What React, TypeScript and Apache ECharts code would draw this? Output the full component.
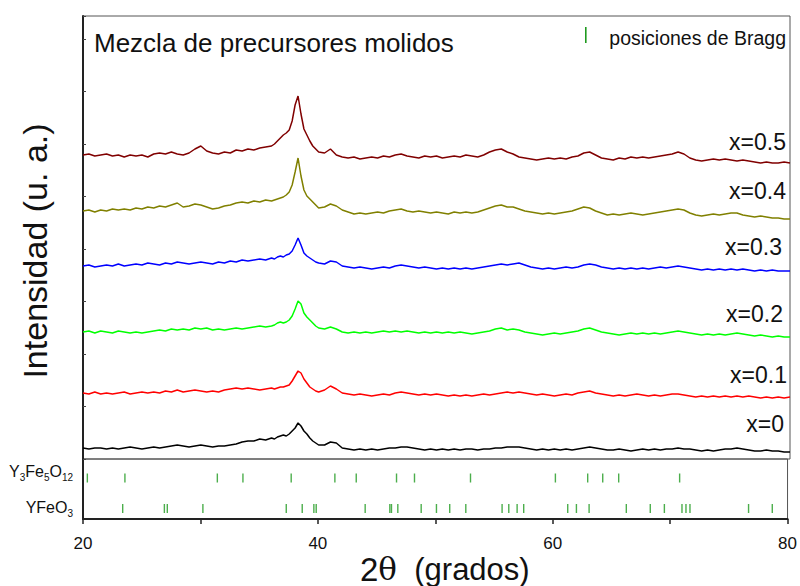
import React, { useEffect, useRef } from "react";
import * as echarts from "echarts";

// 2θ sampling positions (degrees)
const twoTheta = [
  20, 20.5, 21, 21.5, 22, 22.5, 23, 23.5, 24, 24.5, 25, 25.5, 26, 26.5, 27, 27.5,
  28, 28.5, 29, 29.5, 30, 30.5, 31, 31.5, 32, 32.5, 33, 33.5, 34, 34.5, 35, 35.5,
  36, 36.25, 36.5, 36.75, 37, 37.25, 37.5, 37.75, 38, 38.25, 38.5, 38.75, 39, 39.25, 39.5, 39.75, 40,
  40.5, 41, 41.5, 42, 42.5, 43, 43.5, 44, 44.5, 45,
  45.5, 46, 46.5, 47, 47.5, 48, 48.5, 49, 49.5, 50,
  50.5, 51, 51.5, 52, 52.5, 53, 53.5, 54, 54.5, 55,
  55.5, 56, 56.5, 57, 57.5, 58, 58.5, 59, 59.5, 60,
  60.5, 61, 61.5, 62, 62.5, 63, 63.5, 64, 64.5, 65,
  65.5, 66, 66.5, 67, 67.5, 68, 68.5, 69, 69.5, 70,
  70.5, 71, 71.5, 72, 72.5, 73, 73.5, 74, 74.5, 75,
  75.5, 76, 76.5, 77, 77.5, 78, 78.5, 79, 79.5, 80,
];

// Intensities (a.u., already stacked with vertical offsets as in the figure)
const int_x05 = [
  304, 305, 303, 304, 305, 303, 304, 302, 304, 303, 304, 302, 305, 306, 305, 307,
  305, 304, 306, 310, 313, 308, 306, 305, 307, 306, 309, 308, 310, 309, 311, 312,
  313, 315, 318, 321, 324, 326, 329, 338, 354, 363, 345, 330, 324, 318, 313, 310, 307,
  306, 310, 304, 302, 301, 302, 300, 301, 302, 301,
  303, 302, 304, 305, 303, 302, 301, 303, 302, 303,
  301, 302, 303, 302, 304, 303, 302, 304, 307, 309,
  310, 307, 305, 302, 301, 300, 299, 300, 301, 300,
  301, 300, 302, 303, 306, 307, 304, 301, 300, 299,
  301, 300, 302, 301, 302, 301, 302, 303, 304, 305,
  307, 305, 301, 299, 298, 299, 300, 299, 300, 299,
  298, 299, 298, 297, 296, 297, 296, 296, 297, 296,
];
const int_x04 = [
  248, 249, 247, 249, 248, 250, 249, 250, 249, 251, 250, 252, 251, 253, 252, 254,
  256, 252, 253, 255, 254, 252, 250, 251, 253, 254, 256, 257, 256, 258, 257, 259,
  258, 259, 260, 261, 262, 264, 267, 274, 287, 301, 283, 269, 263, 260, 257, 254, 251,
  252, 255, 253, 249, 247, 245, 246, 245, 246, 247,
  246, 248, 249, 250, 248, 247, 248, 247, 246, 247,
  246, 245, 247, 246, 247, 246, 247, 249, 251, 253,
  254, 252, 252, 250, 248, 247, 246, 245, 246, 245,
  246, 247, 248, 250, 252, 251, 248, 246, 244, 245,
  244, 245, 246, 245, 244, 245, 246, 247, 248, 249,
  250, 249, 246, 244, 243, 244, 245, 244, 245, 246,
  246, 244, 243, 242, 243, 242, 241, 241, 240, 240,
];
const int_x03 = [
  193, 194, 192, 193, 194, 193, 195, 193, 194, 195, 194, 196, 195, 194, 196, 195,
  197, 196, 195, 196, 197, 196, 195, 197, 196, 198, 197, 199, 198, 199, 200, 199,
  201, 200, 202, 203, 202, 204, 205, 208, 214, 221, 214, 206, 203, 201, 199, 197, 196,
  195, 198, 197, 193, 192, 191, 192, 191, 190, 191,
  192, 191, 193, 194, 193, 192, 191, 192, 191, 190,
  191, 190, 191, 190, 191, 190, 191, 192, 193, 194,
  195, 194, 195, 196, 194, 192, 191, 190, 191, 190,
  191, 192, 191, 192, 194, 195, 194, 192, 191, 190,
  191, 190, 191, 190, 191, 190, 191, 192, 191, 192,
  193, 192, 191, 190, 189, 190, 189, 190, 189, 190,
  189, 190, 189, 188, 189, 188, 189, 188, 188, 188,
];
const int_x02 = [
  127, 128, 126, 128, 127, 126, 128, 127, 126, 127, 126, 127, 128, 129, 128, 130,
  129, 130, 129, 131, 130, 131, 129, 130, 129, 130, 131, 130, 131, 132, 133, 132,
  133, 134, 136, 137, 136, 137, 139, 143, 150, 158, 155, 146, 142, 139, 136, 133, 131,
  130, 132, 130, 127, 126, 127, 126, 127, 126, 127,
  128, 127, 128, 127, 128, 127, 126, 127, 126, 127,
  126, 127, 126, 127, 126, 125, 126, 127, 128, 130,
  131, 129, 130, 129, 127, 126, 125, 124, 125, 126,
  125, 126, 127, 128, 130, 131, 129, 127, 126, 125,
  124, 125, 126, 125, 126, 125, 126, 125, 126, 127,
  128, 127, 126, 125, 124, 125, 124, 125, 124, 125,
  126, 125, 124, 123, 124, 123, 122, 123, 122, 122,
];
const int_x01 = [
  66, 65, 67, 65, 66, 65, 66, 67, 65, 66, 67, 66, 67, 66, 68, 67,
  69, 67, 68, 69, 68, 67, 68, 67, 69, 70, 71, 70, 71, 70, 69, 70,
  71, 70, 71, 72, 72, 73, 74, 78, 83, 88, 86, 80, 76, 72, 70, 68, 67,
  69, 73, 70, 66, 65, 64, 65, 64, 63, 64,
  65, 64, 66, 67, 66, 65, 64, 65, 64, 65,
  64, 63, 64, 63, 64, 63, 64, 65, 64, 65,
  66, 67, 66, 67, 66, 65, 64, 65, 64, 63,
  64, 65, 64, 66, 67, 68, 66, 65, 64, 63,
  64, 63, 64, 65, 64, 63, 64, 63, 64, 65,
  65, 64, 63, 62, 63, 62, 63, 62, 63, 62,
  63, 62, 63, 62, 61, 62, 61, 62, 61, 62,
];
const int_x00 = [
  11, 10, 11, 11, 10, 11, 10, 11, 12, 11, 10, 11, 12, 11, 12, 13,
  14, 13, 12, 13, 14, 13, 12, 13, 13, 14, 15, 17, 18, 18, 20, 19,
  21, 20, 22, 23, 24, 23, 25, 28, 31, 36, 33, 28, 25, 21, 18, 16, 14,
  14, 17, 16, 11, 10, 9, 10, 9, 10, 9,
  10, 11, 11, 12, 12, 11, 10, 9, 10, 9,
  10, 9, 10, 9, 10, 10, 9, 10, 10, 11,
  11, 12, 12, 12, 11, 10, 9, 10, 9, 10,
  9, 10, 9, 10, 11, 12, 11, 10, 9, 9,
  10, 9, 8, 9, 10, 9, 10, 9, 10, 10,
  11, 10, 10, 9, 8, 9, 8, 9, 10, 10,
  11, 10, 9, 8, 8, 9, 8, 8, 7, 7,
];

const sampleNames = ["x=0", "x=0.1", "x=0.2", "x=0.3", "x=0.4", "x=0.5"];
const sampleData = [int_x00, int_x01, int_x02, int_x03, int_x04, int_x05];
const sampleColors = ["#000000", "#ff0000", "#00ff00", "#0000ff", "#808000", "#800000"];

// Bragg positions (2θ)
const braggYIG = [20.37, 23.57, 31.44, 33.62, 37.73, 41.45, 43.27, 46.7, 48.23, 53.0, 60.23, 62.98, 64.26, 65.62, 70.81];
const braggYFeO3 = [
  23.38, 26.93, 27.18, 30.21, 37.31, 38.67, 39.66, 39.86, 44.03, 46.13, 46.27, 46.81,
  48.8, 50.1, 51.23, 52.6, 55.69, 56.26, 56.97, 57.53, 61.28, 62.02, 63.1, 66.27,
  68.31, 69.51, 71.01, 71.35, 71.69, 76.68, 78.7,
];

const xTickLabels = ["20", "40", "60", "80"];

const FONT = 'Arial, "Liberation Sans", Helvetica, sans-serif';
const GREEN = "#1f9a1f";

// label placement in the picture (right edge x, centre y)
const labelPlaces: [number, number][] = [
  [784, 424], [787, 375], [783, 314], [782, 247], [786, 191], [786, 142],
];

export default function App() {
  const ref = useRef<HTMLDivElement>(null);

  useEffect(() => {
    if (!ref.current) return;
    const chart = echarts.init(ref.current, null, { renderer: "svg" });

    const lineSeries = sampleData.map((vals, i) => ({
      name: sampleNames[i],
      type: "line",
      xAxisIndex: 0,
      yAxisIndex: 0,
      showSymbol: false,
      symbol: "none",
      data: twoTheta.map((t, k) => [t, vals[k]]),
      lineStyle: { color: sampleColors[i], width: 1.5 },
      itemStyle: { color: sampleColors[i] },
      silent: true,
    }));

    const ROW_YIG = 41;
    const ROW_YFEO3 = 10.5;
    const braggSeries = [
      { list: braggYIG, row: ROW_YIG },
      { list: braggYFeO3, row: ROW_YFEO3 },
    ].map((b) => ({
      type: "scatter",
      xAxisIndex: 1,
      yAxisIndex: 1,
      symbol: "rect",
      symbolSize: [1.4, 9],
      data: b.list.map((p) => [p, b.row]),
      itemStyle: { color: GREEN },
      silent: true,
    }));

    const sampleLabels = sampleNames.map((n, i) => ({
      type: "text",
      x: labelPlaces[i][0],
      y: labelPlaces[i][1],
      style: {
        text: n,
        fontSize: 23,
        fontFamily: FONT,
        fill: "#111",
        align: "right",
        verticalAlign: "middle",
      },
    }));

    const subRich = {
      n: { fontSize: 16, fontFamily: FONT, fill: "#111", color: "#111", lineHeight: 22 },
      s: { fontSize: 10, fontFamily: FONT, fill: "#111", color: "#111", lineHeight: 14, verticalAlign: "bottom" },
    };

    chart.setOption({
      animation: false,
      backgroundColor: "#ffffff",
      grid: [
        { left: 83, top: 16, width: 707, height: 443, show: true, borderColor: "#555", borderWidth: 1, backgroundColor: "transparent" },
        { left: 83, top: 459, width: 707, height: 60, show: true, borderColor: "#555", borderWidth: 1, backgroundColor: "transparent" },
      ],
      xAxis: [
        {
          gridIndex: 0, type: "value", min: 20, max: 80,
          axisLine: { show: false }, axisTick: { show: false }, axisLabel: { show: false }, splitLine: { show: false },
        },
        {
          gridIndex: 1, type: "value", min: 20, max: 80, interval: 10,
          axisLine: { show: true, lineStyle: { color: "#222", width: 2 } },
          axisTick: { show: true, inside: false, length: 5, lineStyle: { color: "#222", width: 1.5 } },
          axisLabel: {
            show: true, fontSize: 17, fontFamily: FONT, color: "#111", margin: 16,
            formatter: (v: number) => (xTickLabels.includes(String(v)) ? String(v) : ""),
          },
          splitLine: { show: false },
        },
      ],
      yAxis: [
        {
          gridIndex: 0, type: "value", min: 0, max: 443, interval: 52.5,
          axisLine: { show: true, lineStyle: { color: "#222", width: 2 } },
          axisTick: { show: true, inside: true, length: 3, lineStyle: { color: "#444" } },
          axisLabel: { show: false }, splitLine: { show: false },
        },
        {
          gridIndex: 1, type: "value", min: 0, max: 60,
          axisLine: { show: true, lineStyle: { color: "#222", width: 2 } },
          axisTick: { show: false }, axisLabel: { show: false }, splitLine: { show: false },
        },
      ],
      series: [...lineSeries, ...braggSeries],
      graphic: [
        {
          type: "text", x: 94, y: 43,
          style: { text: "Mezcla de precursores molidos", fontSize: 26, fontFamily: FONT, fill: "#111", align: "left", verticalAlign: "middle" },
        },
        {
          type: "rect", shape: { x: 585, y: 27, width: 1.6, height: 16 }, style: { fill: GREEN },
        },
        {
          type: "text", x: 786, y: 38,
          style: { text: "posiciones de Bragg", fontSize: 19.5, fontFamily: FONT, fill: "#111", align: "right", verticalAlign: "middle" },
        },
        ...sampleLabels,
        {
          type: "text", x: 73, y: 471,
          style: { text: "{n|Y}{s|3}{n|Fe}{s|5}{n|O}{s|12}", rich: subRich, align: "right", verticalAlign: "middle" },
        },
        {
          type: "text", x: 73, y: 507,
          style: { text: "{n|YFeO}{s|3}", rich: subRich, align: "right", verticalAlign: "middle" },
        },
        {
          type: "text", x: 35, y: 251, rotation: Math.PI / 2,
          style: { text: "Intensidad (u. a.)", fontSize: 34, fontFamily: FONT, fill: "#111", align: "center", verticalAlign: "middle" },
        },
        {
          type: "text", x: 360, y: 569,
          style: {
            text: "{a|2}{t|θ}{b|  (grados)}",
            align: "left", verticalAlign: "middle",
            rich: {
              a: { fontSize: 33, fontFamily: FONT, fill: "#111", color: "#111" },
              t: { fontSize: 31, fontFamily: '"DejaVu Serif", "Liberation Serif", serif', fill: "#111", color: "#111" },
              b: { fontSize: 31, fontFamily: FONT, fill: "#111", color: "#111" },
            },
          },
        },
      ],
    });

    return () => chart.dispose();
  }, []);

  return (
    <div
      ref={ref}
      style={{ position: "absolute", left: 0, top: 0, width: 800, height: 586, background: "#fff" }}
    />
  );
}
